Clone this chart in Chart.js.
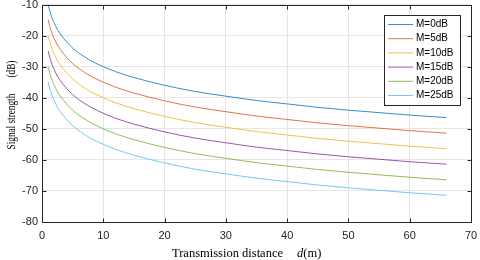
<!DOCTYPE html>
<html>
<head>
<meta charset="utf-8">
<script src="https://cdn.jsdelivr.net/npm/chart.js@4"></script>
<style>
  html, body { margin: 0; padding: 0; background: #fff; }
  #wrap { width: 480px; height: 260px; }
</style>
</head>
<body>
<div id="wrap"><canvas id="c" width="480" height="260"></canvas></div>
<script>
// 传输距离 (m)
const distances = [1, 1.25, 1.5, 1.75, 2, 2.5, 3, 4, 5, 6, 7, 8, 10, 12, 15, 20, 25, 30, 35, 40, 45, 50, 55, 60, 66];

// 各余量下的信号强度 (dB)
const m0 = [-10, -11.9, -13.5, -14.9, -16.0, -18.0, -19.5, -22.0, -24.0, -25.6, -26.9, -28.1, -30.0, -31.6, -33.5, -36.0, -38.0, -39.5, -40.9, -42.0, -43.1, -44.0, -44.8, -45.6, -46.4];
const m5 = [-15, -16.9, -18.5, -19.9, -21.0, -23.0, -24.5, -27.0, -29.0, -30.6, -31.9, -33.1, -35.0, -36.6, -38.5, -41.0, -43.0, -44.5, -45.9, -47.0, -48.1, -49.0, -49.8, -50.6, -51.4];
const m10 = [-20, -21.9, -23.5, -24.9, -26.0, -28.0, -29.5, -32.0, -34.0, -35.6, -36.9, -38.1, -40.0, -41.6, -43.5, -46.0, -48.0, -49.5, -50.9, -52.0, -53.1, -54.0, -54.8, -55.6, -56.4];
const m15 = [-25, -26.9, -28.5, -29.9, -31.0, -33.0, -34.5, -37.0, -39.0, -40.6, -41.9, -43.1, -45.0, -46.6, -48.5, -51.0, -53.0, -54.5, -55.9, -57.0, -58.1, -59.0, -59.8, -60.6, -61.4];
const m20 = [-30, -31.9, -33.5, -34.9, -36.0, -38.0, -39.5, -42.0, -44.0, -45.6, -46.9, -48.1, -50.0, -51.6, -53.5, -56.0, -58.0, -59.5, -60.9, -62.0, -63.1, -64.0, -64.8, -65.6, -66.4];
const m25 = [-35, -36.9, -38.5, -39.9, -41.0, -43.0, -44.5, -47.0, -49.0, -50.6, -51.9, -53.1, -55.0, -56.6, -58.5, -61.0, -63.0, -64.5, -65.9, -67.0, -68.1, -69.0, -69.8, -70.6, -71.4];

const seriesLabels = ['M=0dB', 'M=5dB', 'M=10dB', 'M=15dB', 'M=20dB', 'M=25dB'];
const seriesValues = [m0, m5, m10, m15, m20, m25];
const colors = ['#0072BD', '#D95319', '#EDB120', '#7E2F8E', '#77AC30', '#4DBEEE'];

const xTicks = [0, 10, 20, 30, 40, 50, 60, 70];
const yTicks = [-80, -70, -60, -50, -40, -30, -20, -10];

const axisColor = '#262626';
const serif = '"Liberation Serif", "Times New Roman", serif';

// MATLAB 风格: 向内的刻度、外框、图例、坐标轴标题
const matlabStyle = {
    id: 'matlabStyle',
    afterDatasetsDraw(chart) {
        const { ctx, chartArea: a, scales: { x, y } } = chart;
        ctx.save();
        ctx.strokeStyle = axisColor;
        ctx.lineWidth = 1;
        ctx.beginPath();
        const L = Math.round(a.left) + 0.5, R = Math.round(a.right) + 0.5;
        const T = Math.round(a.top) + 0.5, B = Math.round(a.bottom) + 0.5;
        ctx.rect(L, T, R - L, B - T);
        xTicks.forEach(v => {
            const px = Math.round(x.getPixelForValue(v)) + 0.5;
            ctx.moveTo(px, B); ctx.lineTo(px, B - 4);
            ctx.moveTo(px, T); ctx.lineTo(px, T + 4);
        });
        yTicks.forEach(v => {
            const py = Math.round(y.getPixelForValue(v)) + 0.5;
            ctx.moveTo(L, py); ctx.lineTo(L + 4, py);
            ctx.moveTo(R, py); ctx.lineTo(R - 4, py);
        });
        ctx.stroke();

        // 图例
        const lx = 384, ly = 15, lw = 76, lh = 90;
        ctx.fillStyle = '#fff';
        ctx.fillRect(lx, ly, lw, lh);
        ctx.strokeStyle = '#262626';
        ctx.strokeRect(lx + 0.5, ly + 0.5, lw, lh);
        ctx.font = '10px "Liberation Sans", Arial, sans-serif';
        ctx.textBaseline = 'middle';
        ctx.lineWidth = 0.8;
        seriesLabels.forEach((lab, i) => {
            const ry = ly + 9.5 + i * 14.2;
            ctx.strokeStyle = colors[i];
            ctx.beginPath();
            ctx.moveTo(388, ry); ctx.lineTo(413, ry);
            ctx.stroke();
            ctx.fillStyle = '#000';
            ctx.fillText(lab, 416, ry);
        });

        // 坐标轴标题
        ctx.fillStyle = '#000';
        ctx.textBaseline = 'alphabetic';
        ctx.font = '12.5px ' + serif;
        ctx.fillText('Transmission distance', 172, 257);
        ctx.font = 'italic 12.5px ' + serif;
        ctx.fillText('d', 297, 257);
        const dw = ctx.measureText('d').width;
        ctx.font = '12.5px ' + serif;
        ctx.fillText('(m)', 297 + dw, 257);

        // 纵轴标题 (原图沿文字方向被压缩)
        ctx.translate(15, 105);
        ctx.rotate(-Math.PI / 2);
        ctx.scale(0.74, 1);
        ctx.textAlign = 'center';
        ctx.fillText('Signal strength       (dB)', 0, 0);
        ctx.restore();
    }
};

new Chart(document.getElementById('c'), {
    type: 'line',
    data: {
        datasets: seriesValues.map((vals, i) => ({
            label: seriesLabels[i],
            data: distances.map((d, j) => ({ x: d, y: vals[j] })),
            borderColor: colors[i],
            borderWidth: 0.8,
            pointRadius: 0,
            fill: false,
            cubicInterpolationMode: 'monotone'
        }))
    },
    options: {
        responsive: false,
        animation: false,
        layout: { padding: { left: 0, right: 9, top: 4.5, bottom: 0 } },
        plugins: {
            legend: { display: false },
            tooltip: { enabled: false }
        },
        scales: {
            x: {
                type: 'linear',
                min: 0,
                max: 70,
                afterBuildTicks: s => { s.ticks = xTicks.map(v => ({ value: v })); },
                afterFit: s => { s.height = 38; s.paddingLeft = 0; s.paddingRight = 0; },
                grid: { color: '#e6e6e6', drawTicks: false },
                border: { display: false },
                ticks: {
                    padding: 7,
                    color: '#262626',
                    font: { family: '"Liberation Sans", Arial, sans-serif', size: 11 }
                }
            },
            y: {
                min: -80,
                max: -10,
                afterBuildTicks: s => { s.ticks = yTicks.map(v => ({ value: v })); },
                afterFit: s => { s.width = 42; s.paddingTop = 0; s.paddingBottom = 0; },
                grid: { color: '#e6e6e6', drawTicks: false },
                border: { display: false },
                ticks: {
                    padding: 4,
                    color: '#262626',
                    font: { family: '"Liberation Sans", Arial, sans-serif', size: 11 }
                }
            }
        }
    },
    plugins: [matlabStyle]
});
</script>
</body>
</html>
